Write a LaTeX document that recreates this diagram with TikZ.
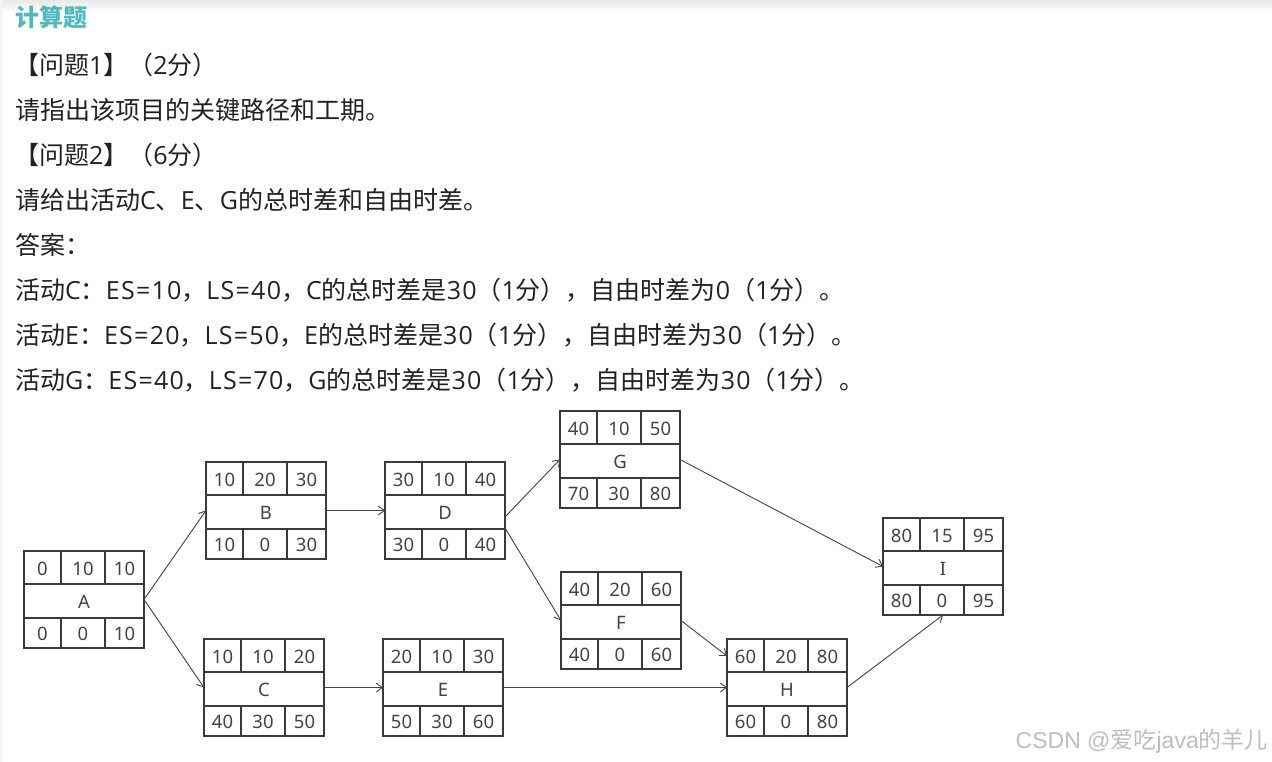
\documentclass[tikz,border=0pt]{standalone}
\usepackage{fontspec}
\newfontfamily\cjk{Noto Sans CJK SC}
\newfontfamily\latf{Open Sans}[LetterSpace=5]
\newfontfamily\wmlat{Liberation Sans}
\newfontfamily\boxf{Noto Sans}
\newcommand\lat[1]{{\latf #1}}
\newcommand\wl[1]{{\wmlat #1}}
\usetikzlibrary{arrows.meta,calc}
\definecolor{titlec}{HTML}{4DBAC0}
\definecolor{txtc}{HTML}{222222}
\definecolor{linec}{HTML}{3A3A3A}
\definecolor{arrc}{HTML}{444444}
\definecolor{wmc}{HTML}{BEBEBE}
\tikzset{
  txt/.style={anchor=west, inner sep=0pt, font=\cjk\fontsize{25}{29}\selectfont, text=txtc, text height=21pt, text depth=4pt},
  abox/.style={draw=linec, line width=1.2pt, minimum width=120pt, minimum height=97pt, inner sep=0pt, outer sep=0pt},
  aline/.style={draw=linec, line width=1.2pt},
  num/.style={inner sep=0pt, font=\boxf\fontsize{18.5}{20}\selectfont, text=txtc!85!white},
  arr/.style={draw=arrc, line width=0.9pt, -{Straight Barb[length=6pt,width=9pt]}}
}
\newcommand\actbox[9]{%
\begin{scope}[shift={(#2)}]
\node[abox] (#1) at (60,48.5) {};
\draw[aline] (0,33) -- (120,33) (0,67) -- (120,67)
  (37,0) -- (37,33) (81,0) -- (81,33) (37,67) -- (37,97) (81,67) -- (81,97);
\node[num] (#1-es) at (18.5,17.5) {#3};
\node[num] (#1-d) at (59,17.5) {#4};
\node[num] (#1-ef) at (100.5,17.5) {#5};
\node[num] (#1-n) at (60,50.5) {#6};
\node[num] (#1-ls) at (18.5,83) {#7};
\node[num] (#1-tf) at (59,83) {#8};
\node[num] (#1-lf) at (100.5,83) {#9};
\end{scope}}
\begin{document}
\begin{tikzpicture}[x=1pt,y=-1pt]
\useasboundingbox (0,0) rectangle (1272,762);
\fill[white] (0,0) rectangle (1272,762);
\shade[top color=black!9, bottom color=white] (0,0) rectangle (1272,12);
\fill[black!4] (0,0) rectangle (3,762);
% texts
\node[txt, text=titlec, font=\cjk\bfseries\fontsize{24}{28}\selectfont] (title) at (15,18) {计算题};
\node[txt] (q1) at (14,66) {【问题\lat{1}】（\lat{2}分）};
\node[txt] (l1) at (15,111) {请指出该项目的关键路径和工期。};
\node[txt] (q2) at (14,156) {【问题\lat{2}】（\lat{6}分）};
\node[txt] (l2) at (15,201) {请给出活动\lat{C}、\lat{E}、\lat{G}的总时差和自由时差。};
\node[txt] (ans) at (15,246) {答案：};
\node[txt] (lc) at (15,291) {活动\lat{C}：\lat{ES=10}，\lat{LS=40}，\lat{C}的总时差是\lat{30}（\lat{1}分），自由时差为\lat{0}（\lat{1}分）。};
\node[txt] (le) at (15,336) {活动\lat{E}：\lat{ES=20}，\lat{LS=50}，\lat{E}的总时差是\lat{30}（\lat{1}分），自由时差为\lat{30}（\lat{1}分）。};
\node[txt] (lg) at (15,381) {活动\lat{G}：\lat{ES=40}，\lat{LS=70}，\lat{G}的总时差是\lat{30}（\lat{1}分），自由时差为\lat{30}（\lat{1}分）。};
% activity boxes
\actbox{A}{24,551}{0}{10}{10}{A}{0}{0}{10}
\actbox{B}{206,462}{10}{20}{30}{B}{10}{0}{30}
\actbox{C}{204,639}{10}{10}{20}{C}{40}{30}{50}
\actbox{D}{385,462}{30}{10}{40}{D}{30}{0}{40}
\actbox{E}{383,639}{20}{10}{30}{E}{50}{30}{60}
\actbox{G}{560,411}{40}{10}{50}{G}{70}{30}{80}
\actbox{F}{561,572}{40}{20}{60}{F}{40}{0}{60}
\actbox{H}{727,639}{60}{20}{80}{H}{60}{0}{80}
\actbox{I}{883,518}{80}{15}{95}{I}{80}{0}{95}
% connectors
\draw[arr] (A.east) -- (B.west);
\draw[arr] (A.east) -- (C.west);
\draw[arr] (B.east) -- (D.west);
\draw[arr] ($(D.north east)+(0,55)$) -- (G.west);
\draw[arr] ($(D.north east)+(0,66)$) -- (F.west);
\draw[arr] (G.east) -- (I.west);
\draw[arr] (F.east) -- ($(H.north west)+(0,17)$);
\draw[arr] (C.east) -- (E.west);
\draw[arr] (E.east) -- (H.west);
\draw[arr] (H.east) -- (I.south);
% watermark
\node[anchor=east, inner sep=0pt, font=\cjk\fontsize{23}{26}\selectfont, text=wmc] (wm) at (1268,741) {\wl{CSDN @}爱吃\wl{java}的羊儿};
\end{tikzpicture}
\end{document}
